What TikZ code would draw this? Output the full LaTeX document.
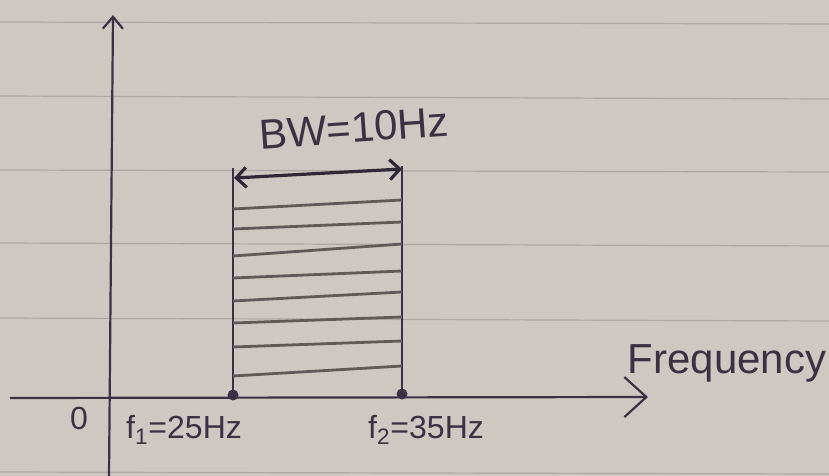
\documentclass[tikz,border=0pt]{standalone}
\usepackage{fontspec}
\setmainfont{Liberation Sans}
\usetikzlibrary{arrows.meta, positioning}
\definecolor{PaperTone}{HTML}{CEC8C2}
\definecolor{RuleGray}{HTML}{ADA7A4}
\definecolor{InkDark}{HTML}{3A3142}
\definecolor{PencilGray}{HTML}{5F5959}
\tikzset{
  axis/.style={-{Straight Barb[length=6pt, width=10pt]}, line width=1.1pt, draw=InkDark},
  xaxis/.style={-{Straight Barb[length=11pt, width=20pt]}, line width=1.1pt, draw=InkDark},
  side/.style={line width=1pt, draw=InkDark},
  hatch/.style={line width=1.4pt, draw=PencilGray},
  span/.style={{Straight Barb[length=5pt, width=10pt]}-{Straight Barb[length=5pt, width=10pt]}, line width=1.6pt, draw=InkDark!80!black},
  dot/.style={circle, fill=InkDark, inner sep=0pt, minimum size=5.5pt},
  note/.style={text=InkDark, inner sep=0pt, font=\fontsize{16}{18}\selectfont},
  bignote/.style={text=InkDark, inner sep=0pt, font=\fontsize{21}{24}\selectfont}
}
\begin{document}
\begin{tikzpicture}[x=0.5pt,y=-0.5pt]
\fill[PaperTone] (0,0) rectangle (829,476);
\useasboundingbox (0,0) rectangle (829,476);
\foreach \y/\z in {22/24, 96/99, 170/172, 243/246, 318/321, 472/474}
{
  \draw[RuleGray, line width=0.6pt] (0,\y) -- (829,\z);
}

\coordinate (ybot) at (109,476);
\coordinate (ytop) at (113,15);
\coordinate (xbeg) at (10,398);
\coordinate (xend) at (648,397);
\draw[axis] (ybot) -- (ytop);
\draw[xaxis] (xbeg) -- (xend);

\node[dot] (lowdot) at (233,395) {};
\node[dot] (highdot) at (402,394) {};
\coordinate (lowtop) at (233,168);
\coordinate (hightop) at (402,166);
\draw[side] (lowdot.center) -- (lowtop);
\draw[side] (highdot.center) -- (hightop);

\foreach \a/\b in {209/200, 229/222, 256/244, 278/271, 301/292, 323/317, 347/341, 376/366}
{
  \draw[hatch] (233,\a) -- (402,\b);
}

\coordinate (bwleft) at (234,178);
\coordinate (bwright) at (402,169);
\draw[span] (bwleft) -- (bwright);

\node[bignote, rotate=4] (bw) at (354,128) {BW=10Hz};
\node[note] (zero) at (79,418) {0};
\node[note] (lowf) at (184,430) {f\textsubscript{1}=25Hz};
\node[note] (highf) at (426,430) {f\textsubscript{2}=35Hz};
\node[bignote] (freq) at (727,363) {Frequency};
\end{tikzpicture}
\end{document}
